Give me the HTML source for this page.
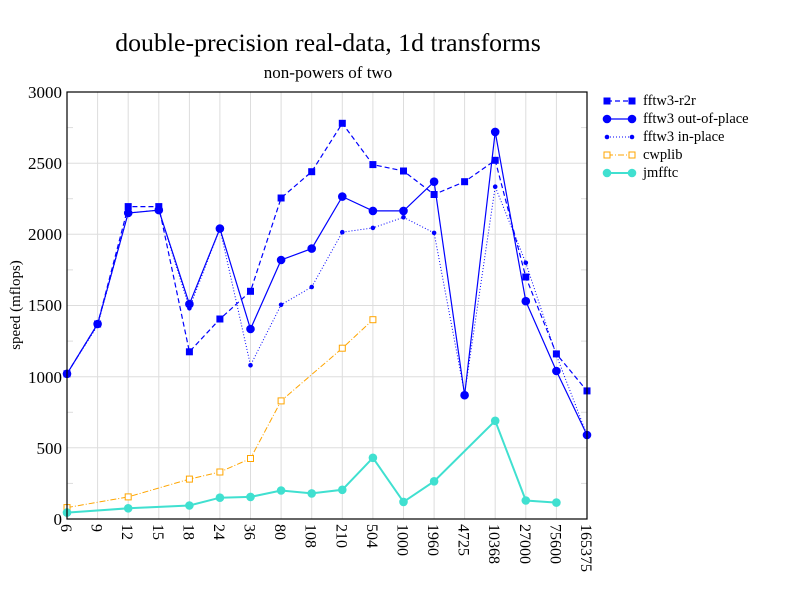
<!DOCTYPE html>
<html><head><meta charset="utf-8"><style>body{margin:0;background:#fff}svg{display:block}text{font-family:"Liberation Serif",serif;fill:#000}</style></head>
<body>
<svg width="792" height="612" viewBox="0 0 792 612" xmlns="http://www.w3.org/2000/svg">
<defs>
<marker id="msq" markerUnits="userSpaceOnUse" markerWidth="10" markerHeight="10" refX="5" refY="5"><rect x="1.5" y="1.5" width="7" height="7" fill="#0000ff"/></marker>
<marker id="mci" markerUnits="userSpaceOnUse" markerWidth="10" markerHeight="10" refX="5" refY="5"><circle cx="5" cy="5" r="4.3" fill="#0000ff"/></marker>
<marker id="mdot" markerUnits="userSpaceOnUse" markerWidth="10" markerHeight="10" refX="5" refY="5"><circle cx="5" cy="5" r="2.3" fill="#0000ff"/></marker>
<marker id="mosq" markerUnits="userSpaceOnUse" markerWidth="10" markerHeight="10" refX="5" refY="5"><rect x="2" y="2" width="6" height="6" fill="#fff" stroke="#ffa500"/></marker>
<marker id="mtq" markerUnits="userSpaceOnUse" markerWidth="10" markerHeight="10" refX="5" refY="5"><circle cx="5" cy="5" r="4.3" fill="#40e0d0"/></marker>
</defs>
<rect width="792" height="612" fill="#fff"/>
<text x="328" y="51" font-size="25.8" text-anchor="middle">double-precision real-data, 1d transforms</text>
<text x="328" y="78" font-size="17" text-anchor="middle">non-powers of two</text>
<g stroke="#ddd" stroke-width="1">
<line x1="97.6" y1="92" x2="97.6" y2="519"/><line x1="128.2" y1="92" x2="128.2" y2="519"/><line x1="158.8" y1="92" x2="158.8" y2="519"/><line x1="189.4" y1="92" x2="189.4" y2="519"/><line x1="219.9" y1="92" x2="219.9" y2="519"/><line x1="250.5" y1="92" x2="250.5" y2="519"/><line x1="281.1" y1="92" x2="281.1" y2="519"/><line x1="311.7" y1="92" x2="311.7" y2="519"/><line x1="342.3" y1="92" x2="342.3" y2="519"/><line x1="372.9" y1="92" x2="372.9" y2="519"/><line x1="403.5" y1="92" x2="403.5" y2="519"/><line x1="434.1" y1="92" x2="434.1" y2="519"/><line x1="464.6" y1="92" x2="464.6" y2="519"/><line x1="495.2" y1="92" x2="495.2" y2="519"/><line x1="525.8" y1="92" x2="525.8" y2="519"/><line x1="556.4" y1="92" x2="556.4" y2="519"/>
<line x1="67" y1="447.8" x2="587" y2="447.8"/><line x1="67" y1="376.7" x2="587" y2="376.7"/><line x1="67" y1="305.5" x2="587" y2="305.5"/><line x1="67" y1="234.3" x2="587" y2="234.3"/><line x1="67" y1="163.2" x2="587" y2="163.2"/>
<line x1="67" y1="483.4" x2="73" y2="483.4"/><line x1="67" y1="412.3" x2="73" y2="412.3"/><line x1="67" y1="341.1" x2="73" y2="341.1"/><line x1="67" y1="269.9" x2="73" y2="269.9"/><line x1="67" y1="198.7" x2="73" y2="198.7"/><line x1="67" y1="127.6" x2="73" y2="127.6"/>
<line x1="581" y1="483.4" x2="587" y2="483.4"/><line x1="581" y1="412.3" x2="587" y2="412.3"/><line x1="581" y1="341.1" x2="587" y2="341.1"/><line x1="581" y1="269.9" x2="587" y2="269.9"/><line x1="581" y1="198.7" x2="587" y2="198.7"/><line x1="581" y1="127.6" x2="587" y2="127.6"/>
</g>
<g font-size="17" text-anchor="end">
<text x="62" y="525">0</text><text x="62" y="454">500</text><text x="62" y="383">1000</text><text x="62" y="311">1500</text><text x="62" y="240">2000</text><text x="62" y="169">2500</text><text x="62" y="98">3000</text>
</g>
<g font-size="16">
<text transform="translate(61,524) rotate(90)">6</text>
<text transform="translate(91.6,524) rotate(90)">9</text>
<text transform="translate(122.2,524) rotate(90)">12</text>
<text transform="translate(152.8,524) rotate(90)">15</text>
<text transform="translate(183.4,524) rotate(90)">18</text>
<text transform="translate(213.9,524) rotate(90)">24</text>
<text transform="translate(244.5,524) rotate(90)">36</text>
<text transform="translate(275.1,524) rotate(90)">80</text>
<text transform="translate(305.7,524) rotate(90)">108</text>
<text transform="translate(336.3,524) rotate(90)">210</text>
<text transform="translate(366.9,524) rotate(90)">504</text>
<text transform="translate(397.5,524) rotate(90)">1000</text>
<text transform="translate(428.1,524) rotate(90)">1960</text>
<text transform="translate(458.6,524) rotate(90)">4725</text>
<text transform="translate(489.2,524) rotate(90)">10368</text>
<text transform="translate(519.8,524) rotate(90)">27000</text>
<text transform="translate(550.4,524) rotate(90)">75600</text>
<text transform="translate(581,524) rotate(90)">165375</text>
</g>
<g fill="none">
<polyline stroke="#ffa500" stroke-width="1" stroke-dasharray="6,2,1,2" marker-start="url(#mosq)" marker-mid="url(#mosq)" marker-end="url(#mosq)" points="67,507.6 128.2,496.9 189.4,479.1 219.9,472.0 250.5,458.5 281.1,400.9 342.3,348.2 372.9,319.7"/>
<polyline stroke="#40e0d0" stroke-width="2" marker-start="url(#mtq)" marker-mid="url(#mtq)" marker-end="url(#mtq)" points="67,512.6 128.2,508.3 189.4,505.5 219.9,497.7 250.5,496.9 281.1,490.5 311.7,493.4 342.3,489.8 372.9,457.8 403.5,501.9 434.1,481.3 495.2,420.8 525.8,500.5 556.4,502.6"/>
<polyline stroke="#0000ff" stroke-width="1" stroke-dasharray="1,2" marker-start="url(#mdot)" marker-mid="url(#mdot)" marker-end="url(#mdot)" points="67,373.8 97.6,325.4 128.2,213.0 158.8,210.1 189.4,308.3 219.9,228.6 250.5,365.3 281.1,304.8 311.7,287.0 342.3,232.2 372.9,227.9 403.5,217.3 434.1,232.9 464.6,393.7 495.2,186.7 525.8,262.8 556.4,355.3 587,435.0"/>
<polyline stroke="#0000ff" stroke-width="1.2" marker-start="url(#mci)" marker-mid="url(#mci)" marker-end="url(#mci)" points="67,373.8 97.6,324.0 128.2,213.0 158.8,210.1 189.4,304.1 219.9,228.6 250.5,329.0 281.1,260.0 311.7,248.6 342.3,196.6 372.9,210.9 403.5,210.9 434.1,181.7 464.6,395.2 495.2,131.9 525.8,301.2 556.4,371.0 587,435.0"/>
<polyline stroke="#0000ff" stroke-width="1.2" stroke-dasharray="5,3" marker-start="url(#msq)" marker-mid="url(#msq)" marker-end="url(#msq)" points="67,373.8 97.6,324.0 128.2,206.6 158.8,206.6 189.4,351.8 219.9,319.0 250.5,291.3 281.1,198.0 311.7,171.7 342.3,123.3 372.9,164.6 403.5,171.0 434.1,194.5 464.6,181.7 495.2,160.3 525.8,277.0 556.4,353.9 587,390.9"/>
</g>
<rect x="67" y="92" width="520" height="427" fill="none" stroke="#000" stroke-width="1.2"/>
<text transform="translate(20,305) rotate(-90)" font-size="15" text-anchor="middle">speed (mflops)</text>
<g fill="none">
<polyline stroke="#0000ff" stroke-width="1.2" stroke-dasharray="5,3" marker-start="url(#msq)" marker-end="url(#msq)" points="607,101 632,101"/>
<polyline stroke="#0000ff" stroke-width="1.2" marker-start="url(#mci)" marker-end="url(#mci)" points="607,119 632,119"/>
<polyline stroke="#0000ff" stroke-width="1" stroke-dasharray="1,2" marker-start="url(#mdot)" marker-end="url(#mdot)" points="607,137 632,137"/>
<polyline stroke="#ffa500" stroke-width="1" stroke-dasharray="6,2,1,2" marker-start="url(#mosq)" marker-end="url(#mosq)" points="607,155 632,155"/>
<polyline stroke="#40e0d0" stroke-width="2" marker-start="url(#mtq)" marker-end="url(#mtq)" points="607,173 632,173"/>
</g>
<g font-size="14.5">
<text x="643" y="105">fftw3-r2r</text>
<text x="643" y="123">fftw3 out-of-place</text>
<text x="643" y="141">fftw3 in-place</text>
<text x="643" y="159">cwplib</text>
<text x="643" y="177">jmfftc</text>
</g>
</svg>
</body></html>
